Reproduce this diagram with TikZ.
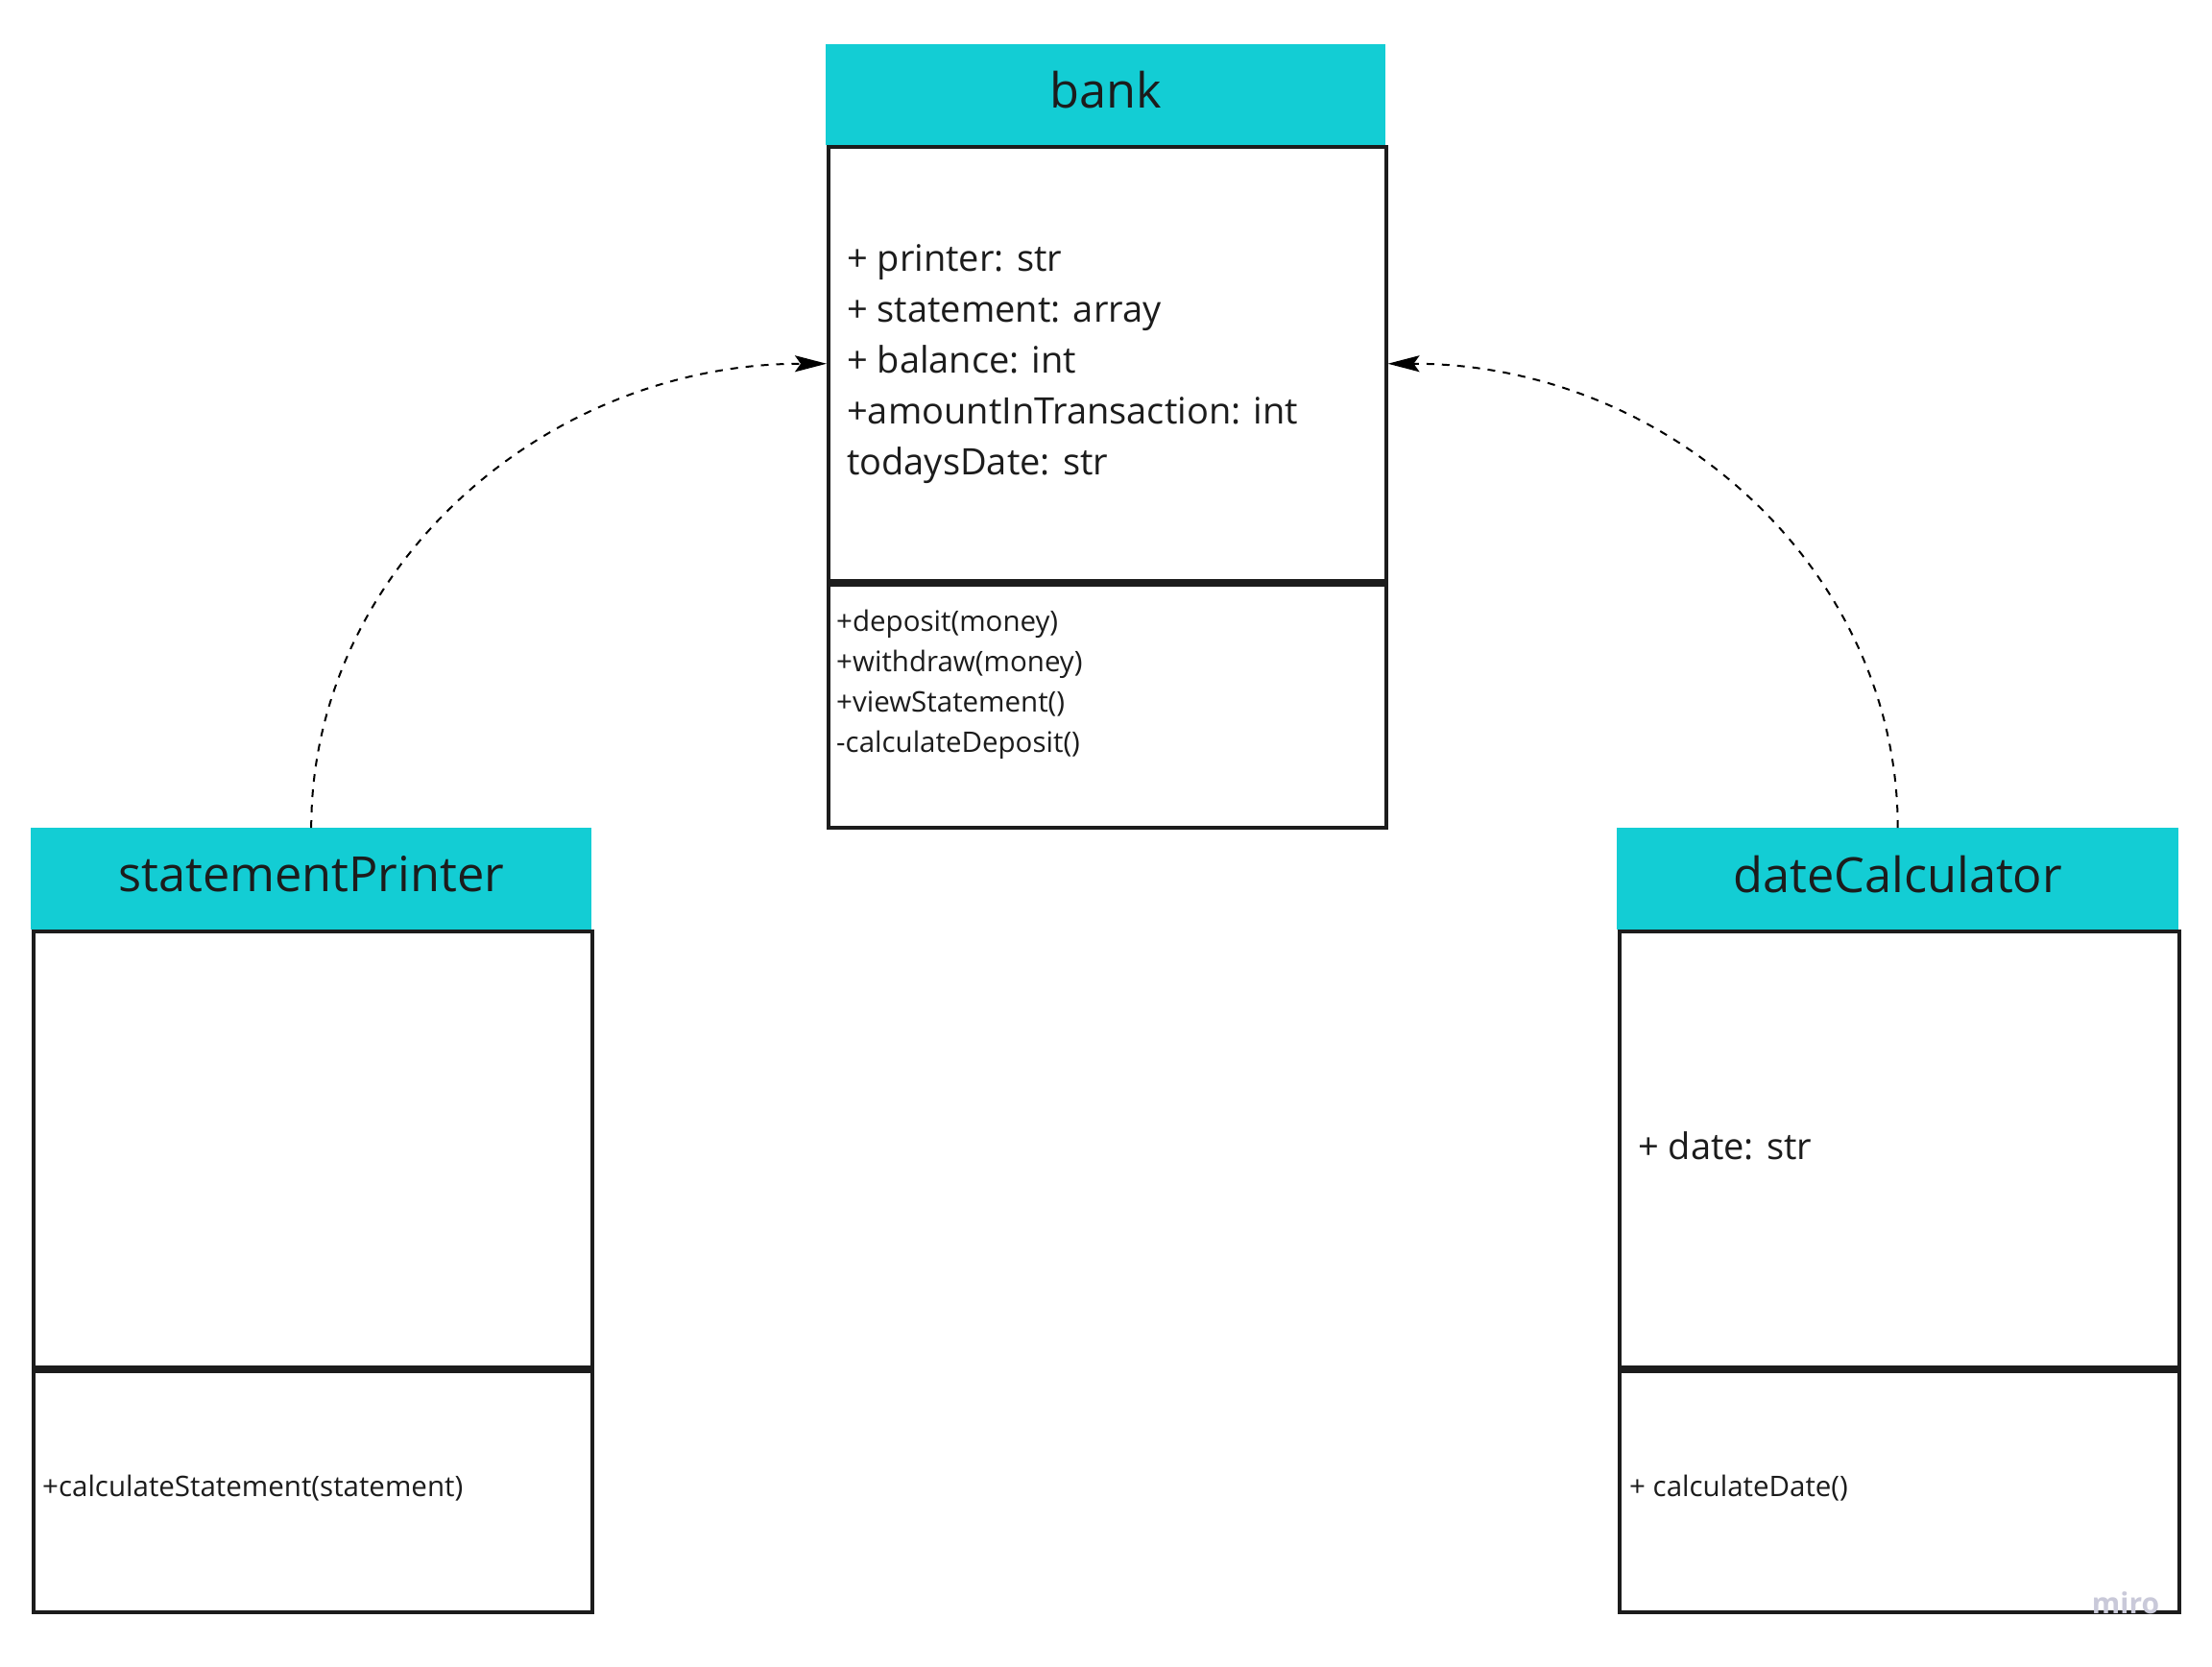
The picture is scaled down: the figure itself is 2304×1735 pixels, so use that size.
\documentclass[tikz,border=0pt]{standalone}
\usepackage{fontspec}
\setmainfont{Open Sans}
\usetikzlibrary{arrows.meta}
\definecolor{hdrcyan}{HTML}{13CDD4}
\definecolor{ink}{HTML}{1C1C1C}
\definecolor{miroc}{HTML}{C9C9D9}
\begin{document}
\begin{tikzpicture}[x=1pt,y=-1pt,
  hdr/.style={fill=hdrcyan, draw=none, anchor=north west, inner sep=0pt},
  hdrtxt/.style={inner sep=0pt, text=ink, font=\fontsize{50.5}{60}\selectfont},
  part/.style={draw=ink, line width=3.5pt, fill=white, anchor=north west, inner sep=0pt},
  bigtxt/.style={anchor=west, align=left, inner sep=0pt, text=ink, font=\fontsize{38}{53}\selectfont},
  smalltxt/.style={anchor=west, align=left, inner sep=0pt, text=ink, font=\fontsize{29.5}{42}\selectfont},
  conn/.style={draw=black, line width=2pt, dash pattern=on 8pt off 8pt,
    -{Stealth[length=33pt,width=17pt,inset=6pt]}}
]
\useasboundingbox (0,0) rectangle (2304,1735);
\fill[white] (0,0) rectangle (2304,1735);

% bank
\node[hdr, minimum width=583pt, minimum height=105pt] (bankH) at (860,46) {};
\node[hdrtxt] (bankT) at ([yshift=5pt]bankH.center) {bank};
\node[part, minimum width=581pt, minimum height=452pt] (bankA) at (861,151) {};
\node[part, minimum width=581pt, minimum height=253pt] (bankM) at (861,607) {};
\node[bigtxt] (bankAt) at (882,379) {+ printer: str\\+ statement: array\\+ balance: int\\+amountInTransaction: int\\todaysDate: str};
\node[smalltxt] (bankMt) at (871,713) {+deposit(money)\\+withdraw(money)\\+viewStatement()\\-calculateDeposit()};

% statementPrinter
\node[hdr, minimum width=584pt, minimum height=106pt] (spH) at (32,862) {};
\node[hdrtxt] (spT) at ([yshift=5pt]spH.center) {statementPrinter};
\node[part, minimum width=582pt, minimum height=454pt] (spA) at (33,968) {};
\node[part, minimum width=582pt, minimum height=251pt] (spM) at (33,1426) {};
\node[smalltxt] (spMt) at (44,1550) {+calculateStatement(statement)};

% dateCalculator
\node[hdr, minimum width=585pt, minimum height=106pt] (dcH) at (1684,862) {};
\node[hdrtxt] (dcT) at ([yshift=5pt]dcH.center) {dateCalculator};
\node[part, minimum width=583pt, minimum height=454pt] (dcA) at (1685,968) {};
\node[part, minimum width=583pt, minimum height=251pt] (dcM) at (1685,1426) {};
\node[bigtxt] (dcAt) at (1706,1193) {+ date: str};
\node[smalltxt] (dcMt) at (1697,1550) {+ calculateDate()};

% connectors
\draw[conn] (spH.north) .. controls +(0,-267) and +(-296,0) .. (bankA.west);
\draw[conn] (dcH.north) .. controls +(0,-267) and +(294,0) .. (bankA.east);

% watermark
\node[inner sep=0pt, text=miroc, font=\fontsize{30}{30}\selectfont\bfseries] (miro) at (2214,1669) {miro};
\end{tikzpicture}
\end{document}
